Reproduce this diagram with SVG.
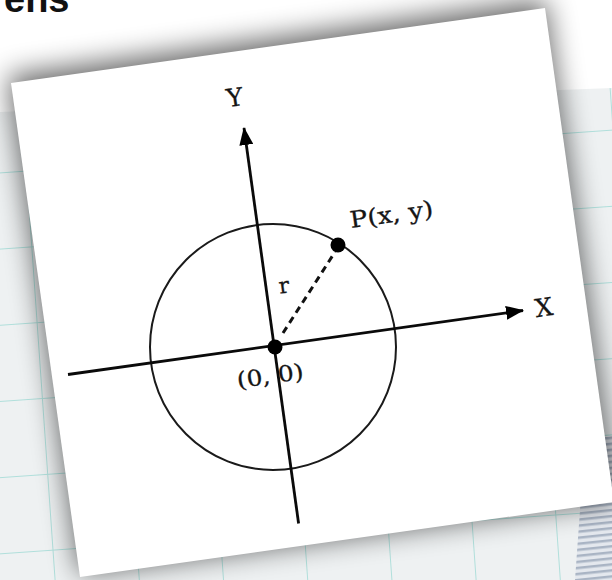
<svg xmlns="http://www.w3.org/2000/svg" width="612" height="580" viewBox="0 0 612 580">
  <style>
    .axis { stroke: #0a0a0a; stroke-width: 2.8; fill: none; }
    .circ { stroke: #1a1a1a; stroke-width: 2; fill: none; }
    .dash { stroke: #111; stroke-width: 3; stroke-dasharray: 7 5; fill: none; }
    .dot { fill: #000; }
    .lbl { font-family: "DejaVu Serif", "Liberation Serif", serif; fill: #151515; stroke: #151515; stroke-width: 0.3; }
    .grid { stroke: #8fd6cf; stroke-width: 2; fill: none; opacity: 0.65; }
  </style>
  <defs>
    <marker id="arrow" viewBox="0 0 18 14" refX="17" refY="7" markerWidth="18" markerHeight="14" markerUnits="userSpaceOnUse" orient="auto">
      <path d="M0,0 L18,7 L0,14 z" fill="#000"/>
    </marker>
    <pattern id="gridpat" width="84" height="76" patternUnits="userSpaceOnUse" patternTransform="rotate(-4) translate(14 20)">
      <rect width="84" height="76" fill="#eef1f2"/>
      <path class="grid" d="M0,0 H84 M0,0 V76"/>
    </pattern>
    <pattern id="stripes" width="8" height="6" patternUnits="userSpaceOnUse" patternTransform="rotate(-6)">
      <rect width="8" height="6" fill="#e4e8ee"/>
      <rect width="8" height="2.5" fill="#a9b4c4"/>
    </pattern>
    <filter id="shadow" x="-20%" y="-20%" width="140%" height="140%">
      <feGaussianBlur stdDeviation="14"/>
    </filter>
  </defs>

  <!-- background -->
  <rect x="0" y="0" width="612" height="580" fill="#ffffff"/>
  <polygon points="0,112 612,88 612,580 0,580" fill="url(#gridpat)"/>
  <polygon points="585,440 612,436 612,580 575,580" fill="url(#stripes)"/>

  <!-- heading fragment -->
  <text x="4" y="12" font-family="Liberation Sans, Arial, sans-serif" font-size="38" font-weight="bold" fill="#111">ens</text>

  <!-- paper with shadow -->
  <g id="paper">
    <polygon points="8,76 545,0 617,500 80,574" fill="#000" opacity="0.6" filter="url(#shadow)"/>
    <polygon points="11,83 545,8 614,502 80,577" fill="#ffffff"/>
  </g>

  <!-- circle -->
  <g id="circle">
    <circle class="circ" cx="273" cy="347" r="123"/>
  </g>

  <!-- connectors -->
  <g id="connectors">
    <line id="y-axis" class="axis" x1="298.6" y1="523.5" x2="244" y2="128" marker-end="url(#arrow)"/>
    <line id="x-axis" class="axis" x1="68" y1="374.5" x2="523" y2="310.5" marker-end="url(#arrow)"/>
    <line id="radius" class="dash" x1="283" y1="333" x2="335" y2="252"/>
  </g>

  <!-- nodes -->
  <g id="origin">
    <circle class="dot" cx="275" cy="347" r="7.5"/>
    <text class="lbl" x="238" y="388" font-size="22" textLength="67" lengthAdjust="spacingAndGlyphs" transform="rotate(-8 238 388)">(0, 0)</text>
  </g>
  <g id="point-p">
    <circle class="dot" cx="338" cy="245" r="7.5"/>
    <text class="lbl" x="351" y="228" font-size="23" textLength="84" lengthAdjust="spacingAndGlyphs" transform="rotate(-8 351 228)">P(x, y)</text>
  </g>
  <g id="label-r">
    <text class="lbl" x="285" y="293" font-size="22" text-anchor="middle" transform="rotate(-8 285 293)">r</text>
  </g>
  <g id="label-y">
    <text class="lbl" x="236" y="106" font-size="25" text-anchor="middle" transform="rotate(-8 236 106)">Y</text>
  </g>
  <g id="label-x">
    <text class="lbl" x="545" y="316" font-size="25" text-anchor="middle" transform="rotate(-8 545 316)">X</text>
  </g>
</svg>
